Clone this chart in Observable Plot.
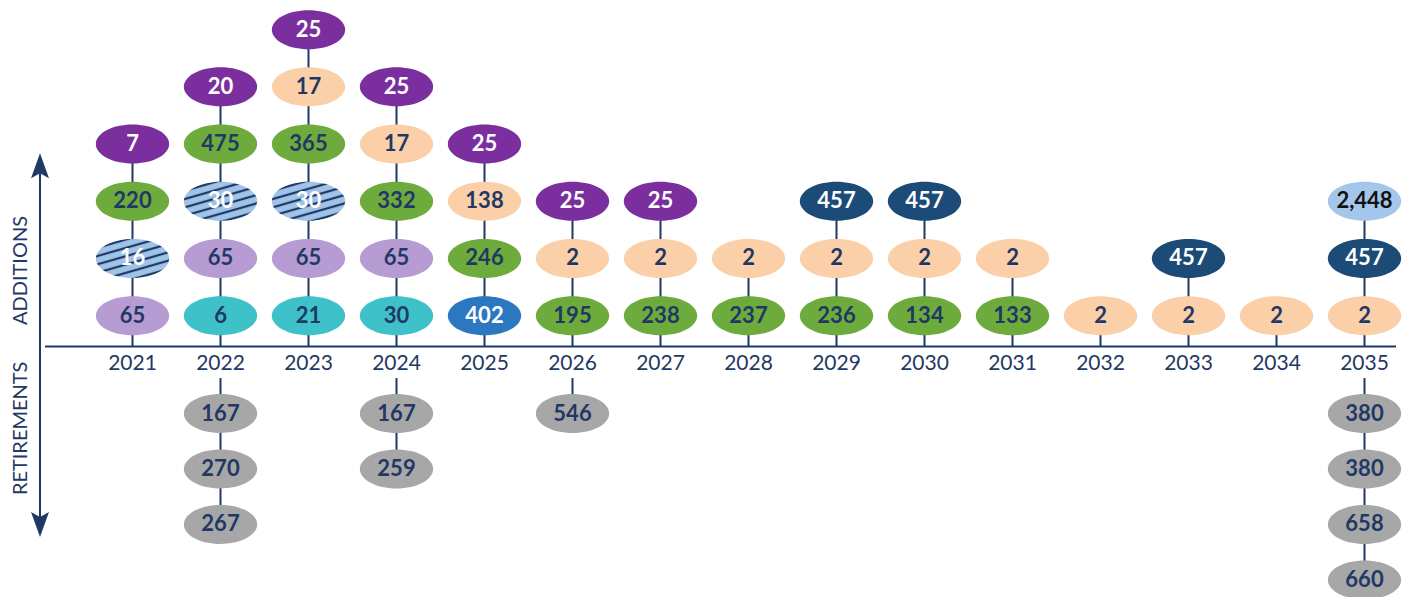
<!DOCTYPE html>
<html>
<head>
<meta charset="utf-8">
<script src="https://cdn.jsdelivr.net/npm/d3@7"></script>
<script src="https://cdn.jsdelivr.net/npm/@observablehq/plot@0.6"></script>
<style>
  html, body { margin: 0; padding: 0; background: #fff; }
</style>
</head>
<body>
<div id="chart"></div>
<script>
// ---------------- data ----------------
const years = [2021, 2022, 2023, 2024, 2025, 2026, 2027, 2028, 2029, 2030, 2031, 2032, 2033, 2034, 2035];

// additions per year, listed from the axis upward
const addValues = [
  [65, 16, 220, 7],
  [6, 65, 30, 475, 20],
  [21, 65, 30, 365, 17, 25],
  [30, 65, 332, 17, 25],
  [402, 246, 138, 25],
  [195, 2, 25],
  [238, 2, 25],
  [237, 2],
  [236, 2, 457],
  [134, 2, 457],
  [133, 2],
  [2],
  [2, 457],
  [2],
  [2, 457, 2448]
];
const addTypes = [
  ["lilac", "hatched", "green", "purple"],
  ["teal", "lilac", "hatched", "green", "purple"],
  ["teal", "lilac", "hatched", "green", "peach", "purple"],
  ["teal", "lilac", "green", "peach", "purple"],
  ["blue", "green", "peach", "purple"],
  ["green", "peach", "purple"],
  ["green", "peach", "purple"],
  ["green", "peach"],
  ["green", "peach", "navy"],
  ["green", "peach", "navy"],
  ["green", "peach"],
  ["peach"],
  ["peach", "navy"],
  ["peach"],
  ["peach", "navy", "sky"]
];

// retirements per year, listed from the axis downward
const retireValues = [
  [], [167, 270, 267], [], [167, 259], [], [546], [], [], [], [], [], [], [], [], [380, 380, 658, 660]
];

const types = ["purple", "green", "hatched", "lilac", "teal", "peach", "blue", "navy", "sky", "grey"];
const typeFills = ["#7b2f9e", "#6dab3c", "url(#hatch)", "#b79bd3", "#3fc1c9", "#fbcfa8", "#2c78c0", "#1c4b78", "#a3c7ea", "#a7a7a7"];
const whiteTextTypes = ["purple", "hatched", "blue", "navy"];
const sideLabels = ["ADDITIONS", "RETIREMENTS"];

// ---------------- layout helpers ----------------
const navy = "#1f3864";
const fmt = d3.format(",");
const rows = [];
years.forEach((yr, i) => {
  addValues[i].forEach((v, k) => rows.push({year: yr, value: v, type: addTypes[i][k], level: k + 1 - 0.46}));
  retireValues[i].forEach((v, k) => rows.push({year: yr, value: v, type: "grey", level: -(0.2 + (k + 1) * 0.97)}));
});
const addStems = years.map((yr, i) => ({year: yr, n: addValues[i].length})).filter(d => d.n > 0)
  .map(d => ({year: d.year, y1: 0, y2: d.n - 0.46}));
const retStems = years.map((yr, i) => ({year: yr, n: retireValues[i].length})).filter(d => d.n > 0)
  .map(d => ({year: d.year, y1: -0.56, y2: -(0.2 + d.n * 0.97)}));

// ellipse symbol for Plot.dot
const ellipse = {
  draw(ctx, size) {
    const ry = Math.sqrt(size / Math.PI), rx = ry * 1.88, k = 0.5522847498;
    ctx.moveTo(rx, 0);
    ctx.bezierCurveTo(rx, k * ry, k * rx, ry, 0, ry);
    ctx.bezierCurveTo(-k * rx, ry, -rx, k * ry, -rx, 0);
    ctx.bezierCurveTo(-rx, -k * ry, -k * rx, -ry, 0, -ry);
    ctx.bezierCurveTo(k * rx, -ry, rx, -k * ry, rx, 0);
    ctx.closePath();
  }
};

// vertical double arrow on the left
function sideArrow(index, scales, values, dimensions) {
  const y = scales.y;
  const x0 = dimensions.marginLeft - 5;
  const top = y(3.37), bot = y(-3.34);
  const g = d3.create("svg:g");
  g.append("line").attr("x1", x0).attr("x2", x0).attr("y1", top + 15).attr("y2", bot - 15)
    .attr("stroke", navy).attr("stroke-width", 2);
  g.append("path").attr("fill", navy)
    .attr("d", `M${x0},${top}L${x0 + 9},${top + 25}L${x0},${top + 20}L${x0 - 9},${top + 25}Z`);
  g.append("path").attr("fill", navy)
    .attr("d", `M${x0},${bot}L${x0 + 9},${bot - 25}L${x0},${bot - 20}L${x0 - 9},${bot - 25}Z`);
  return g.node();
}

const font = "Lato, 'Noto Sans', sans-serif";

const chart = Plot.plot({
  width: 1415,
  height: 597,
  marginLeft: 45,
  marginRight: 19,
  marginTop: 0,
  marginBottom: 0,
  style: {background: "white", overflow: "visible", fontFamily: font},
  x: {type: "point", domain: years, range: [126, 1370], padding: 0, axis: null},
  y: {domain: [-4.3, 5.7], range: [592, 20], axis: null},
  color: {type: "ordinal", domain: types, range: typeFills},
  marks: [
    Plot.ruleY([0], {stroke: navy, strokeWidth: 2}),
    Plot.ruleX(addStems, {x: "year", y1: "y1", y2: "y2", stroke: navy, strokeWidth: 2}),
    Plot.ruleX(retStems, {x: "year", y1: "y1", y2: "y2", stroke: navy, strokeWidth: 2}),
    Plot.dot(rows, {x: "year", y: "level", r: 19.5, symbol: ellipse, fill: "type", stroke: "none"}),
    Plot.text(rows.filter(d => whiteTextTypes.includes(d.type)), {
      x: "year", y: "level", text: d => fmt(d.value), fill: "white",
      fontSize: 22, fontWeight: "bold", fontFamily: font
    }),
    Plot.text(rows.filter(d => !whiteTextTypes.includes(d.type)), {
      x: "year", y: "level", text: d => fmt(d.value),
      fill: d => (d.type === "sky" ? "#111" : navy),
      fontSize: 22, fontWeight: "bold", fontFamily: font
    }),
    Plot.text(years, {x: d => d, y: () => -0.3, text: d => String(d), fill: navy, fontSize: 21, fontFamily: font}),
    Plot.text(sideLabels, {
      y: (d, i) => [1.33, -1.43][i], text: d => d, frameAnchor: "left", textAnchor: "middle",
      dx: -25, rotate: -90, fill: navy, fontSize: 20, fontFamily: font
    }),
    sideArrow
  ]
});

// hatch pattern definition
const svgSel = d3.select(chart);
const defs = svgSel.insert("defs", ":first-child");
const pat = defs.append("pattern").attr("id", "hatch").attr("patternUnits", "userSpaceOnUse")
  .attr("width", 20).attr("height", 8).attr("patternTransform", "rotate(-16)");
pat.append("rect").attr("width", 20).attr("height", 8).attr("fill", "#9fc4e8");
pat.append("line").attr("x1", 0).attr("x2", 20).attr("y1", 4).attr("y2", 4)
  .attr("stroke", navy).attr("stroke-width", 2.2);

document.getElementById("chart").appendChild(chart);
</script>
</body>
</html>
